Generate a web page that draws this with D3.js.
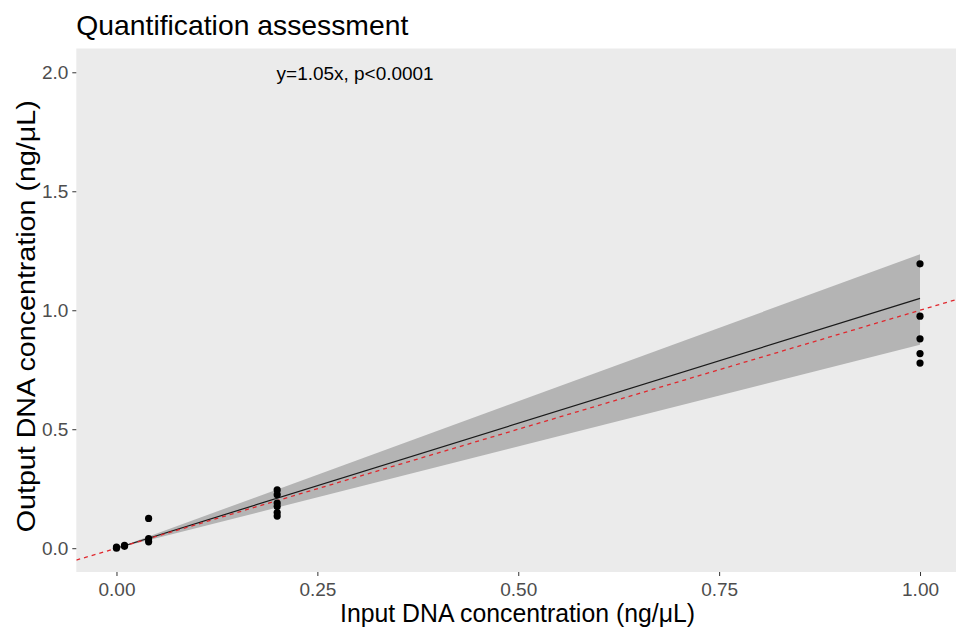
<!DOCTYPE html>
<html>
<head>
<meta charset="utf-8">
<script src="https://cdn.jsdelivr.net/npm/d3@7/dist/d3.min.js"></script>
<style>
  html, body { margin: 0; padding: 0; background: #ffffff; }
  svg { display: block; font-family: "Liberation Sans", Arial, sans-serif; }
</style>
</head>
<body>
<svg id="chart" width="956" height="632"></svg>
<script>
// ---- data ----
const inputConc  = [0, 0, 0.01, 0.01, 0.04, 0.04, 0.04, 0.2, 0.2, 0.2, 0.2, 0.2, 0.2, 1, 1, 1, 1, 1];
const outputConc = [0.0, 0.005, 0.008, 0.012, 0.125, 0.04, 0.027, 0.245, 0.225, 0.19, 0.175, 0.15, 0.135, 1.195, 0.975, 0.88, 0.818, 0.778];
const fitSlope = 1.05;           // y = 1.05x
const bandX  = [0, 1];
const bandLo = [0, 0.855];
const bandHi = [0, 1.235];
const identitySlope = 1;         // red dashed y = x
const xTicks = [0, 0.25, 0.5, 0.75, 1.0];
const yTicks = [0, 0.5, 1.0, 1.5, 2.0];
const xDomain = [-0.05, 1.05];
const yDomain = [-0.1, 2.1];

const titleText = "Quantification assessment";
const annotText = "y=1.05x, p<0.0001";
const xTitle = "Input DNA concentration (ng/\u03bcL)";
const yTitle = "Output DNA concentration (ng/\u03bcL)";

// ---- layout ----
const svg = d3.select("#chart");
const panel = { left: 76.3, right: 960.2, top: 48.5, bottom: 572 };

const x = d3.scaleLinear().domain(xDomain).range([panel.left, panel.right]);
const y = d3.scaleLinear().domain(yDomain).range([panel.bottom, panel.top]);

svg.append("defs").append("clipPath").attr("id", "clip")
  .append("rect")
  .attr("x", panel.left).attr("y", panel.top)
  .attr("width", panel.right - panel.left).attr("height", panel.bottom - panel.top);

// panel background
svg.append("rect")
  .attr("x", panel.left).attr("y", panel.top)
  .attr("width", panel.right - panel.left).attr("height", panel.bottom - panel.top)
  .attr("fill", "#ebebeb");

const plot = svg.append("g").attr("clip-path", "url(#clip)");

// confidence band
const bandData = bandX.map((d, i) => ({ x: d, lo: bandLo[i], hi: bandHi[i] }));
plot.append("path")
  .datum(bandData)
  .attr("fill", "#b4b4b4")
  .attr("d", d3.area().x(d => x(d.x)).y0(d => y(d.lo)).y1(d => y(d.hi)));

// fitted line
plot.append("path")
  .datum(bandX)
  .attr("fill", "none")
  .attr("stroke", "#1a1a1a")
  .attr("stroke-width", 1.2)
  .attr("d", d3.line().x(d => x(d)).y(d => y(fitSlope * d)));

// identity line (red dashed)
plot.append("path")
  .datum(xDomain)
  .attr("fill", "none")
  .attr("stroke", "#e0282e")
  .attr("stroke-width", 1.3)
  .attr("stroke-dasharray", "4,4")
  .attr("d", d3.line().x(d => x(d)).y(d => y(identitySlope * d)));

// points
plot.selectAll("circle.pt")
  .data(inputConc.map((d, i) => ({ x: d, y: outputConc[i] })))
  .enter().append("circle")
  .attr("class", "pt")
  .attr("cx", d => x(d.x))
  .attr("cy", d => y(d.y))
  .attr("r", 3.6)
  .attr("fill", "#000");

// axes
const xAxis = svg.append("g")
  .attr("transform", `translate(0,${panel.bottom})`)
  .call(d3.axisBottom(x).tickValues(xTicks).tickFormat(d3.format(".2f")).tickSize(4).tickPadding(7));
const yAxis = svg.append("g")
  .attr("transform", `translate(${panel.left},0)`)
  .call(d3.axisLeft(y).tickValues(yTicks).tickFormat(d3.format(".1f")).tickSize(4).tickPadding(4));

[xAxis, yAxis].forEach(g => {
  g.select(".domain").remove();
  g.selectAll(".tick line").attr("stroke", "#333333").attr("stroke-width", 1);
  g.selectAll(".tick text").attr("fill", "#4d4d4d").style("font-size", "19px");
});

// annotation
svg.append("text")
  .attr("x", x(0.297)).attr("y", 80)
  .attr("text-anchor", "middle")
  .style("font-size", "18px")
  .attr("textLength", 157).attr("lengthAdjust", "spacingAndGlyphs")
  .attr("fill", "#000")
  .text(annotText);

// title
svg.append("text")
  .attr("x", panel.left).attr("y", 35)
  .style("font-size", "28px")
  .attr("textLength", 332).attr("lengthAdjust", "spacingAndGlyphs")
  .attr("fill", "#000")
  .text(titleText);

// axis titles
svg.append("text")
  .attr("x", 517.5).attr("y", 622)
  .attr("text-anchor", "middle")
  .style("font-size", "25px")
  .attr("textLength", 355).attr("lengthAdjust", "spacingAndGlyphs")
  .attr("fill", "#000")
  .text(xTitle);

svg.append("text")
  .attr("transform", `translate(35,${(panel.top + panel.bottom) / 2 + 6}) rotate(-90)`)
  .attr("text-anchor", "middle")
  .style("font-size", "26px")
  .attr("textLength", 432).attr("lengthAdjust", "spacingAndGlyphs")
  .attr("fill", "#000")
  .text(yTitle);
</script>
</body>
</html>
